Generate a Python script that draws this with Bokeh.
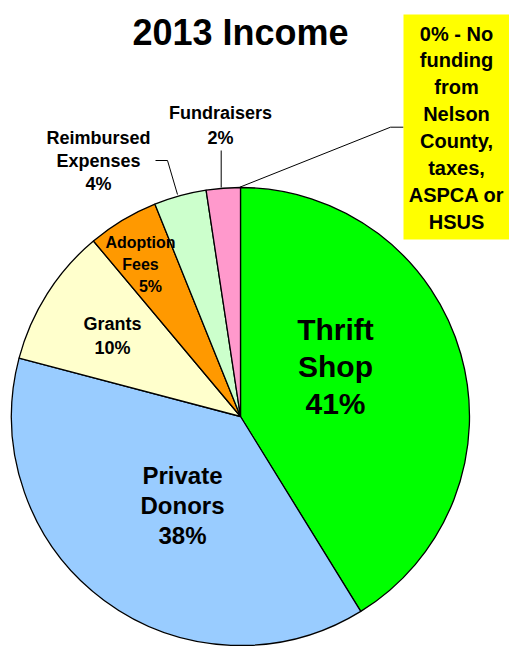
import numpy as np
from bokeh.plotting import figure
from bokeh.models import Range1d, ColumnDataSource
from bokeh.core.properties import value
from bokeh.embed import file_html
from bokeh.resources import INLINE

# ---- data ----
title = "2013 Income"
categories = ["Thrift\nShop", "Private\nDonors", "Grants", "Adoption\nFees",
              "Reimbursed\nExpenses", "Fundraisers"]
values = [41.2, 37.9, 9.8, 5.0, 3.7, 2.4]
note_lines = ["0% - No", "funding", "from", "Nelson", "County,", "taxes,", "ASPCA or", "HSUS"]

# ---- styles / layout ----
colors = ["#00FF00", "#99CCFF", "#FFFFCC", "#FF9900", "#CCFFCC", "#FF99CC"]
FONT = "Liberation Sans"
W, H = 509, 646
cx, cy, R = 240, 230, 229
label_x = [335, 182, 112, 140, 98, 220]
label_y = [317, 171, 323, 404, 509, 534]
label_step = [37, 30, 24, 22, 23, 25]
label_size = [30, 24, 18, 16, 18, 18]
pct_dx = [0, 0, 0, 10, 0, 0]

p = figure(width=W, height=H, x_range=Range1d(0, W), y_range=Range1d(0, H),
           output_backend="svg", toolbar_location=None,
           x_axis_location=None, y_axis_location=None, min_border=0,
           outline_line_color=None)
p.grid.visible = False

# pie wedges
frac = np.array(values) / np.sum(values)
cum = np.concatenate([[0], np.cumsum(frac)])
start = np.pi / 2 - 2 * np.pi * cum[:-1]
end = np.pi / 2 - 2 * np.pi * cum[1:]
src = ColumnDataSource(dict(x=[cx] * len(values), y=[cy] * len(values),
                            start=start, end=end, color=colors))
p.wedge(x="x", y="y", radius=R, start_angle="start", end_angle="end",
        direction="clock", fill_color="color", line_color="black",
        line_width=1.3, source=src)

# slice labels
tx, ty, tt, ts = [], [], [], []
for i, (cat, v) in enumerate(zip(categories, values)):
    lines = cat.split("\n") + [f"{round(v)}%"]
    for j, ln in enumerate(lines):
        tx.append(label_x[i] + (pct_dx[i] if j == len(lines) - 1 else 0))
        ty.append(label_y[i] - j * label_step[i])
        tt.append(ln)
        ts.append(f"{label_size[i]}px")
p.text(x=tx, y=ty, text=tt, text_font=value(FONT), text_font_style="bold",
       text_font_size=ts, text_align="center", text_baseline="middle",
       text_color="black")

# leader lines
p.line([220.7, 220.7], [496, 459], line_color="black", line_width=1)
p.line([155, 167, 177], [486, 486, 452], line_color="black", line_width=1)
p.line([403, 390, 239.3], [519.3, 519.3, 459.3], line_color="black", line_width=1)

# title
p.text(x=[240], y=[614], text=[title], text_font=value(FONT), text_font_style="bold",
       text_font_size="36px", text_align="center", text_baseline="middle",
       text_color="black")

# note box
p.quad(left=[403], right=[515], bottom=[407], top=[632], fill_color="#FFFF00",
       line_color=None)
ny = [613 - k * 26.9 for k in range(len(note_lines))]
p.text(x=[456] * len(note_lines), y=ny, text=note_lines, text_font=value(FONT),
       text_font_style="bold", text_font_size="20px", text_align="center",
       text_baseline="middle", text_color="black")

open("out.html", "w").write(file_html(p, INLINE))
